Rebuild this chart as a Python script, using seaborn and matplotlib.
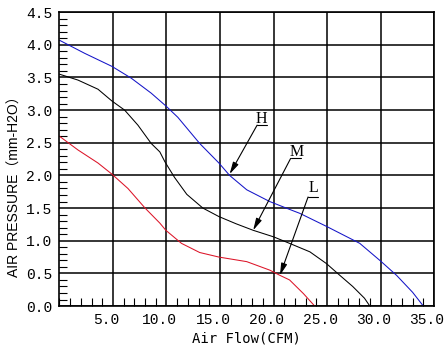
import numpy as np
import pandas as pd
import matplotlib
matplotlib.use("Agg")
import matplotlib.pyplot as plt
import matplotlib.transforms as mtransforms
import seaborn as sns
from matplotlib.ticker import MultipleLocator

# ---- data ----
h_flow = [0, 2.35, 4.9, 6.7, 8.57, 9.97, 11.06, 13.1, 14.9, 15.9, 17.5, 19.65, 21.5, 22.45, 24.95, 28.06, 30.0, 31.5, 33.0, 34.0]
h_pres = [4.07, 3.87, 3.67, 3.49, 3.26, 3.06, 2.89, 2.49, 2.19, 2.0, 1.78, 1.60, 1.48, 1.42, 1.22, 0.96, 0.69, 0.47, 0.21, 0.0]

m_flow = [0, 1.73, 3.6, 4.9, 6.09, 7.33, 8.57, 9.38, 9.85, 10.75, 11.9, 13.4, 14.9, 16.5, 18.1, 20.0, 21.5, 23.4, 24.95, 26.2, 27.4, 28.5, 29.0]
m_pres = [3.55, 3.46, 3.32, 3.14, 3.0, 2.77, 2.49, 2.36, 2.21, 1.97, 1.71, 1.50, 1.37, 1.26, 1.16, 1.06, 0.96, 0.83, 0.65, 0.47, 0.30, 0.12, 0.0]

l_flow = [0, 1.73, 3.6, 4.9, 6.4, 8.0, 9.38, 9.94, 11.4, 13.1, 14.9, 17.5, 19.65, 20.6, 21.5, 22.8, 23.85]
l_pres = [2.60, 2.39, 2.19, 2.02, 1.80, 1.50, 1.27, 1.16, 0.96, 0.82, 0.75, 0.68, 0.55, 0.47, 0.40, 0.19, 0.0]

series_names = ["H", "M", "L"]
series_colors = ["#1414c8", "#000000", "#dc1428"]

x_ticks = [5, 10, 15, 20, 25, 30, 35]
x_labels = ["5.0", "10.0", "15.0", "20.0", "25.0", "30.0", "35.0"]
y_ticks = [0, 0.5, 1.0, 1.5, 2.0, 2.5, 3.0, 3.5, 4.0, 4.5]
y_labels = ["0.0", "0.5", "1.0", "1.5", "2.0", "2.5", "3.0", "3.5", "4.0", "4.5"]

df = pd.concat([
    pd.DataFrame({"flow": h_flow, "pressure": h_pres, "curve": "H"}),
    pd.DataFrame({"flow": m_flow, "pressure": m_pres, "curve": "M"}),
    pd.DataFrame({"flow": l_flow, "pressure": l_pres, "curve": "L"}),
], ignore_index=True)

sns.set_theme(style="white")
plt.rcParams["font.family"] = ["DejaVu Sans", "Noto Sans CJK SC"]

fig = plt.figure(figsize=(4.47, 3.47), dpi=100)
fig.patch.set_facecolor("white")
ax = fig.add_axes([0.133, 0.118, 0.838, 0.847])

sns.lineplot(data=df, x="flow", y="pressure", hue="curve",
             palette=dict(zip(series_names, series_colors)),
             estimator=None, sort=False, linewidth=0.75, legend=False, ax=ax)

ax.set_xlim(0, 35)
ax.set_ylim(0, 4.5)
ax.set_xticks(x_ticks)
ax.set_xticklabels(x_labels, family="Liberation Mono", fontsize=10.5)
ax.set_yticks(y_ticks)
ax.set_yticklabels(y_labels, family="Liberation Mono", fontsize=10.5)
ax.xaxis.set_minor_locator(MultipleLocator(1))
ax.yaxis.set_minor_locator(MultipleLocator(0.1))
ax.tick_params(which="major", length=0, pad=5, colors="black")
ax.tick_params(which="minor", direction="in", length=6, width=0.8, color="black",
               bottom=True, left=True, top=False, right=False)
ax.grid(True, which="major", color="black", linewidth=1.1)
for s in ax.spines.values():
    s.set_color("black")
    s.set_linewidth(1.2)

# x tick labels sit slightly left of their ticks in the reference
shift = mtransforms.ScaledTranslation(-7 / 100, 0, fig.dpi_scale_trans)
for lab in ax.get_xticklabels():
    lab.set_transform(lab.get_transform() + shift)

ax.set_xlabel("Air Flow(CFM)", family="DejaVu Sans Mono", fontsize=10, color="black", labelpad=3)
ax.set_ylabel("")
fig.text(15 / 447, 1 - 183 / 347, "AIR PRESSURE（mm-H2O）", rotation=90,
         ha="center", va="center", fontsize=10, color="black",
         family=["Liberation Sans", "Noto Sans CJK SC"])

# annotations: label, text pos, underline x-range & y, arrow target
annos = [
    ("H", (18.9, 2.87), (18.47, 19.35), 2.77, (15.9, 2.02)),
    ("M", (22.15, 2.36), (21.6, 22.6), 2.26, (18.1, 1.16)),
    ("L", (23.7, 1.80), (23.23, 24.16), 1.67, (20.6, 0.47)),
]
for lab, tpos, (ux0, ux1), uy, tip in annos:
    ax.text(tpos[0], tpos[1], lab, family="Liberation Serif", fontsize=11.5,
            ha="center", va="center", color="black")
    ax.plot([ux0, ux1], [uy, uy], color="black", lw=0.8)
    ax.annotate("", xy=tip, xytext=(ux0, uy),
                arrowprops=dict(arrowstyle="-|>,head_length=0.6,head_width=0.15",
                                color="black", lw=0.8, shrinkA=0, shrinkB=0))

fig.savefig("out.png", dpi=100, facecolor="white")
